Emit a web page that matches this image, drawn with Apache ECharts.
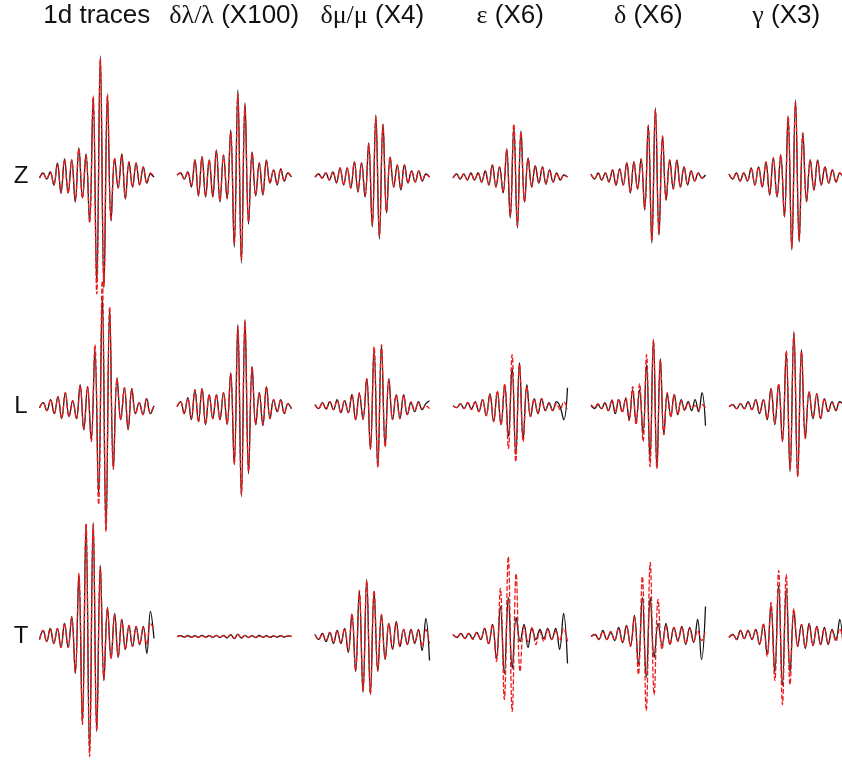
<!DOCTYPE html>
<html>
<head>
<meta charset="utf-8">
<script src="https://cdn.jsdelivr.net/npm/echarts@6/dist/echarts.min.js"></script>
<style>
  html, body { margin: 0; padding: 0; background: #fff; }
  #chart { width: 842px; height: 762px; }
</style>
</head>
<body>
<div id="chart"></div>
<script>
// Column headings (Greek symbols rendered in a serif face) and row components
const columnTitles = ['1d traces', '{g|δλ/λ} (X100)', '{g|δμ/μ} (X4)', '{g|ε} (X6)', '{g|δ} (X6)', '{g|γ} (X3)'];
const rowLabels = ['Z', 'L', 'T'];

// Waveform samples (successive peaks/troughs), black = observed, red = synthetic
// ---- Z component ----
const zTraceObs  = [-2, 3, -3, 4, -9, 13, -17, 17, -17, 16, -26, 28, -22, 22, -46, 78, -107, 120, -112, 80, -45, 17, -12, 22, -23, 14, -11, 13, -9, 9, -7, 2, -1];
const zTraceSyn  = [-2, 3, -3, 4, -9, 12, -17, 16, -17, 16, -25, 27, -22, 21, -47, 80, -118, 118, -110, 82, -44, 18, -12, 21, -22, 14, -11, 13, -9, 9, -7, 3, -1];
const zLambdaObs = [1, 3, -3, 4, -11, 16, -20, 19, -21, 16, -21, 26, -26, 21, -23, 46, -71, 86, -87, 73, -48, 24, -20, 13, -19, 16, -7, 6, -9, 7, -5, 3, -1];
const zLambdaSyn = [1, 3, -3, 4, -10, 16, -19, 19, -20, 16, -20, 25, -25, 21, -22, 44, -68, 82, -84, 70, -46, 23, -19, 13, -18, 15, -7, 6, -8, 7, -5, 3, -1];
const zMuObs     = [-1, 2, -2, 3, -4, 4, -7, 8, -9, 8, -12, 14, -16, 13, -21, 33, -51, 61, -63, 52, -37, 19, -11, 11, -14, 11, -7, 5, -6, 5, -5, 2, -1];
const zMuSyn     = [-1, 2, -2, 3, -4, 4, -6, 8, -9, 8, -12, 14, -15, 13, -20, 32, -49, 59, -60, 51, -36, 19, -11, 11, -13, 11, -7, 5, -6, 5, -5, 2, -1];
const zEpsObs    = [-2, 2, -3, 2, -4, 3, -4, 3, -6, 5, -9, 11, -11, 9, -17, 26, -42, 49, -52, 45, -26, 18, -11, 10, -7, 9, -8, 6, -6, 3, -4, 1, -1];
const zEpsSyn    = [-2, 2, -3, 2, -4, 3, -4, 3, -6, 5, -9, 11, -11, 9, -16, 27, -40, 52, -50, 44, -26, 17, -11, 10, -7, 9, -8, 6, -6, 3, -4, 1, -1];
const zDeltaObs  = [2, -3, 3, -4, 3, -6, 6, -9, 7, -9, 13, -17, 14, -13, 17, -34, 51, -67, 68, -59, 40, -24, 16, -13, 16, -11, 9, -9, 5, -5, 3, -2, 1];
const zDeltaSyn  = [2, -3, 3, -4, 3, -6, 6, -9, 7, -9, 13, -16, 14, -13, 17, -33, 50, -65, 66, -58, 40, -24, 16, -13, 15, -11, 9, -8, 5, -5, 3, -2, 1];
const zGammaObs  = [2, -3, 3, -5, 3, -5, 8, -9, 9, -11, 14, -19, 18, -21, 21, -41, 59, -74, 76, -66, 43, -26, 16, -14, 16, -9, 9, -7, 6, -6, 3, -2];
const zGammaSyn  = [2, -3, 3, -5, 3, -5, 8, -9, 9, -11, 14, -18, 18, -20, 21, -40, 60, -72, 74, -64, 43, -25, 16, -14, 15, -9, 9, -7, 6, -6, 3, -2];

// ---- L component ----
const lTraceObs  = [-1, 4, -4, 7, -7, 10, -12, 14, -10, 6, -12, 22, -23, 20, -33, 57, -88, 110, -123, 98, -63, 29, -13, 19, -23, 18, -7, 4, -8, 8, -7, 1];
const lTraceSyn  = [-1, 4, -4, 7, -7, 10, -12, 14, -10, 6, -12, 21, -23, 20, -35, 62, -98, 126, -125, 100, -62, 28, -13, 19, -22, 18, -7, 4, -8, 8, -6, 1];
const lLambdaObs = [0, 5, -7, 9, -13, 17, -15, 18, -18, 12, -12, 12, -13, 14, -18, 34, -58, 82, -90, 87, -67, 40, -18, 14, -19, 20, -12, 7, -5, 7, -7, 3, -2];
const lLambdaSyn = [0, 5, -7, 9, -12, 17, -15, 18, -17, 12, -12, 12, -13, 14, -17, 33, -57, 80, -88, 85, -65, 40, -18, 14, -18, 20, -12, 7, -5, 7, -7, 3, -2];
const lMuObs     = [2, -2, 4, -2, 5, -3, 7, -6, 6, -6, 12, -13, 13, -13, 28, -43, 58, -61, 61, -40, 28, -13, 12, -12, 12, -8, 4, -5, 5, -3, 3, 6];
const lMuSyn     = [2, -2, 4, -3, 5, -3, 6, -6, 6, -6, 12, -13, 14, -12, 28, -42, 60, -60, 62, -40, 27, -13, 12, -12, 11, -8, 5, -4, 4, -2, 1, -2];
const lEpsObs    = [1, -1, 3, -2, 4, -2, 5, -5, 7, -9, 13, -15, 15, -18, 22, -30, 39, -48, 44, -33, 22, -10, 8, -7, 8, -4, 4, -4, 5, 0, -13, 19];
const lEpsSyn    = [1, -1, 3, -2, 4, -3, 5, -5, 7, -9, 12, -15, 16, -18, 23, -42, 52, -55, 43, -35, 20, -10, 8, -7, 8, -4, 3, -4, 3, -3, 5, -2];
const lDeltaObs  = [1, -2, 2, -2, 4, -4, 6, -7, 7, -5, 8, -13, 17, -15, 17, -28, 42, -52, 67, -61, 48, -28, 13, -10, 12, -8, 7, -3, 5, -4, 7, -5, 14, -19];
const lDeltaSyn  = [2, -1, 3, -2, 3, -4, 7, -5, 8, -6, 9, -14, 20, -18, 23, -35, 52, -60, 67, -62, 47, -28, 14, -10, 12, -8, 6, -4, 4, -1, 1, -3, 2, -1];
const lGammaObs  = [0, 2, -2, 3, -2, 5, -3, 7, -7, 7, -13, 18, -18, 22, -35, 53, -65, 75, -70, 57, -32, 15, -12, 13, -12, 8, -5, 5, -4, 5, 2];
const lGammaSyn  = [0, 2, -2, 3, -2, 4, -3, 7, -6, 7, -12, 18, -17, 23, -34, 56, -63, 73, -70, 55, -32, 15, -11, 13, -12, 8, -5, 4, -3, 4, 4];

// ---- T component ----
const tTraceObs  = [-3, 6, -5, 8, -7, 8, -11, 13, -11, 20, -37, 62, -87, 112, -115, 114, -95, 71, -44, 29, -22, 23, -21, 17, -13, 11, -10, 10, -8, 10, -17, 25, -2];
const tTraceSyn  = [-3, 6, -5, 8, -7, 8, -11, 13, -11, 19, -36, 63, -88, 113, -120, 112, -94, 70, -43, 28, -22, 22, -20, 17, -13, 11, -10, 10, -8, 9, -8, 13, 8];
const tLambdaObs = [0, 0.8, -0.6, 1, -0.7, 0.9, -0.8, 1.1, -0.6, 0.9, -1, 1.2, -0.9, 1, -1.3, 1.8, -2.2, 2.4, -1.6, 1.2, -1, 0.9, -1.1, 1, -0.7, 0.8, -0.9, 0.7, -0.6, 0.8, -0.5, 0.6, 0];
const tLambdaSyn = [0, 0.6, -0.8, 0.9, -0.9, 0.7, -1, 0.9, -0.8, 1, -0.8, 1.1, -1, 0.9, -1.2, 1.5, -1.9, 2.1, -1.5, 1.2, -0.9, 1, -0.9, 1.1, -0.8, 0.7, -0.8, 0.8, -0.7, 0.6, -0.6, 0.5, 0];
const tMuObs     = [2, -3, 3, -5, 4, -7, 6, -7, 8, -16, 22, -35, 45, -56, 57, -58, 45, -35, 22, -23, 13, -13, 15, -10, 7, -8, 7, -7, 7, -14, 18, -24];
const tMuSyn     = [2, -3, 3, -4, 4, -6, 6, -7, 8, -15, 23, -34, 46, -55, 56, -58, 46, -34, 22, -22, 13, -12, 14, -10, 7, -8, 7, -6, 6, -10, 7, -7];
const tEpsObs    = [2, -1, 3, -2, 3, -2, 4, -3, 8, -7, 12, -22, 30, -37, 39, -32, 19, -5, 12, -11, 8, -3, 7, -2, 8, -3, 8, -13, 23, -27];
const tEpsSyn    = [2, -1, 3, -2, 3, -3, 4, -3, 8, -8, 12, -25, 48, -63, 80, -75, 63, -35, 10, -5, 9, -8, 5, -5, 7, -3, 5, -4, 8, -5];
const tDeltaObs  = [0, 2, -3, 6, -3, 4, -4, 9, -6, 11, -9, 21, -28, 39, -41, 39, -21, 13, -9, 13, -8, 9, -4, 10, -8, 9, -6, 17, -23, 30];
const tDeltaSyn  = [0, 2, -3, 5, -3, 5, -4, 8, -6, 10, -10, 20, -38, 60, -74, 74, -58, 37, -13, 10, -8, 9, -5, 9, -7, 8, -5, 6, -4, 6];
const tGammaObs  = [-1, 2, -3, 6, -2, 6, -3, 7, -8, 12, -18, 31, -36, 51, -49, 48, -36, 26, -10, 12, -12, 13, -9, 10, -8, 9, -8, 7, -3, 17, -21];
const tGammaSyn  = [-1, 2, -3, 6, -2, 6, -3, 7, -8, 13, -20, 34, -44, 66, -68, 62, -48, 28, -10, 12, -11, 12, -9, 10, -8, 8, -7, 6, -5, 8, -6];

// Panel table: rows Z, L, T; columns as in columnTitles; each cell [observed, synthetic]
const panelData = [
  [[zTraceObs, zTraceSyn], [zLambdaObs, zLambdaSyn], [zMuObs, zMuSyn], [zEpsObs, zEpsSyn], [zDeltaObs, zDeltaSyn], [zGammaObs, zGammaSyn]],
  [[lTraceObs, lTraceSyn], [lLambdaObs, lLambdaSyn], [lMuObs, lMuSyn], [lEpsObs, lEpsSyn], [lDeltaObs, lDeltaSyn], [lGammaObs, lGammaSyn]],
  [[tTraceObs, tTraceSyn], [tLambdaObs, tLambdaSyn], [tMuObs, tMuSyn], [tEpsObs, tEpsSyn], [tDeltaObs, tDeltaSyn], [tGammaObs, tGammaSyn]]
];

// Layout (pixels)
const colLeft = [39.5, 177, 315, 453, 591, 729];
const colWidth = 114.5;
const rowBaseline = [176, 406.7, 636.5];
const halfSpan = 125;            // amplitude units map 1:1 to pixels
const headerY = 16;
const rowLabelX = 21;

const grids = [], xAxes = [], yAxes = [], series = [];
panelData.forEach((row, r) => {
  row.forEach((pair, c) => {
    const k = grids.length;
    grids.push({
      left: colLeft[c], width: colWidth,
      top: rowBaseline[r] - halfSpan, height: 2 * halfSpan,
      containLabel: false, outerBoundsMode: 'none'
    });
    xAxes.push({ type: 'value', gridIndex: k, min: 0, max: pair[0].length - 1, show: false });
    yAxes.push({ type: 'value', gridIndex: k, min: -halfSpan, max: halfSpan, show: false });
    const styles = [
      { color: '#141414', width: 1.3, type: 'solid' },
      { color: '#ec1c1c', width: 1.3, type: [5, 2] }
    ];
    pair.forEach((vals, s) => {
      const n = vals.length;
      const maxIdx = pair[0].length - 1;
      series.push({
        type: 'line',
        xAxisIndex: k,
        yAxisIndex: k,
        data: vals.map((v, i) => [i * maxIdx / (n - 1), v]),
        showSymbol: false,
        smooth: 0.4,
        clip: false,
        silent: true,
        z: 2 + s,
        lineStyle: styles[s]
      });
    });
  });
});

const graphics = [];
columnTitles.forEach((t, c) => {
  graphics.push({
    type: 'text',
    x: colLeft[c] + colWidth / 2,
    y: headerY,
    style: {
      text: t,
      fontFamily: 'Liberation Sans',
      fontSize: 26,
      fill: '#111',
      align: 'center',
      verticalAlign: 'middle',
      rich: { g: { fontFamily: 'Liberation Serif', fontSize: 26, fill: '#111' } }
    }
  });
});
rowLabels.forEach((t, r) => {
  graphics.push({
    type: 'text',
    x: rowLabelX,
    y: rowBaseline[r],
    style: { text: t, fontFamily: 'Liberation Sans', fontSize: 24, fill: '#111', align: 'center', verticalAlign: 'middle' }
  });
});

const chart = echarts.init(document.getElementById('chart'), null, { renderer: 'canvas' });
chart.setOption({
  animation: false,
  backgroundColor: '#fff',
  grid: grids,
  xAxis: xAxes,
  yAxis: yAxes,
  series: series,
  graphic: graphics
});
</script>
</body>
</html>
